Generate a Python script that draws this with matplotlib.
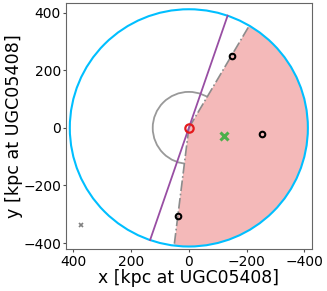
import numpy as np
import matplotlib
matplotlib.use("Agg")
import matplotlib.pyplot as plt
from matplotlib.patches import Circle, Wedge

# geometry (kpc)
r_outer = 412
r_inner = 125
wedge_angles = [120.5, 277.1]   # deg, shaded sector edges
line_angle = 109.0              # deg, purple line direction

# satellites
sat_x = [-149, -254, 37]
sat_y = [249, -21, -307]
host_xy = [0, 0]
cen_xy = [-123, -27]
far_xy = [372, -337]

fig = plt.figure(figsize=(3.27, 2.91), dpi=100)
ax = fig.add_axes([0.202, 0.143, 0.751, 0.845])

ax.add_patch(Circle((0, 0), r_inner, fill=False, ec="0.6", lw=1.3, zorder=1))
ax.add_patch(Wedge((0, 0), r_outer, wedge_angles[0], wedge_angles[1],
                   fc="#f4b9b9", ec="none", zorder=2))
for a in wedge_angles:
    t = np.deg2rad(a)
    ax.plot([0, r_outer * np.cos(t)], [0, r_outer * np.sin(t)],
            color="0.55", ls="-.", lw=1.2, zorder=3)
ax.add_patch(Circle((0, 0), r_outer, fill=False, ec="#00bfff", lw=1.5, zorder=4))

t = np.deg2rad(line_angle)
ax.plot([-r_outer * np.cos(t), r_outer * np.cos(t)],
        [-r_outer * np.sin(t), r_outer * np.sin(t)],
        color="#984ea3", lw=1.3, zorder=5)

ax.plot(sat_x, sat_y, "o", mfc="none", mec="k", ms=4, mew=1.5, zorder=6)
ax.plot(*host_xy, "o", mfc="none", mec="#e41a1c", ms=6, mew=1.6, zorder=7)
ax.plot(*cen_xy, "x", color="#4daf4a", ms=6, mew=2.2, zorder=7)
ax.plot(*far_xy, "x", color="0.5", ms=3.5, mew=1.2, zorder=7)

ax.set_xlim(425, -425)
ax.set_ylim(-422, 432)
ax.set_xticks([400, 200, 0, -200, -400])
ax.set_yticks([400, 200, 0, -200, -400])
ax.tick_params(labelsize=10, length=2.5, width=0.8, pad=1.2, color="0.3")
for s in ax.spines.values():
    s.set_color("0.4")
ax.set_xlabel("x [kpc at UGC05408]", fontsize=12.4, labelpad=0)
ax.set_ylabel("y [kpc at UGC05408]", fontsize=12.6, labelpad=0)

fig.savefig("out.png", dpi=100)
